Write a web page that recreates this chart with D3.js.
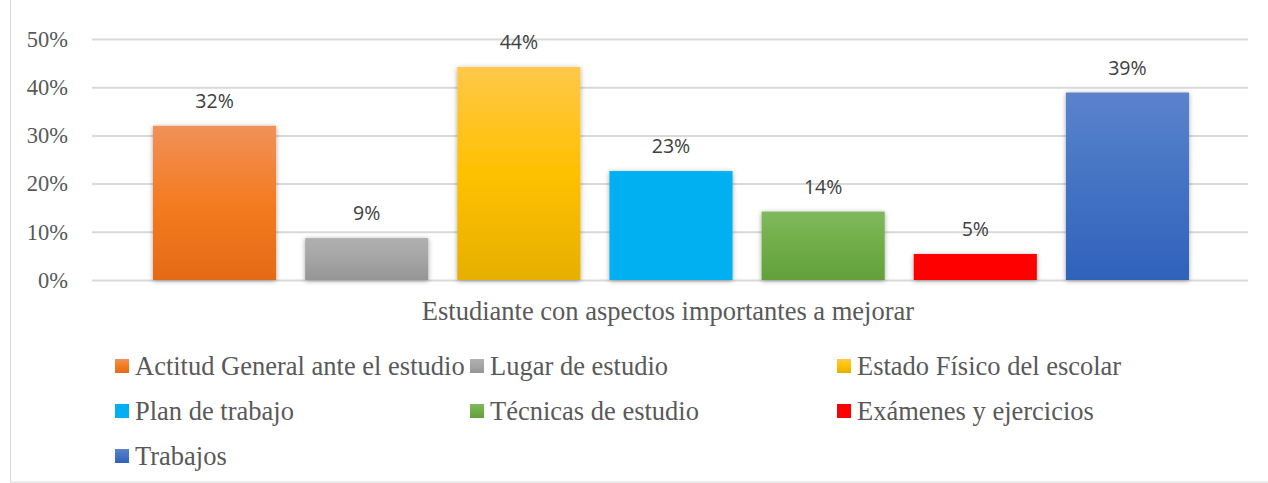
<!DOCTYPE html>
<html><head><meta charset="utf-8">
<script src="https://cdn.jsdelivr.net/npm/d3@7"></script>
<style>body{margin:0;background:#fff}</style>
</head><body>
<svg id="c" width="1268" height="483"></svg>
<script>
const categories = ["Actitud General ante el estudio","Lugar de estudio","Estado Físico del escolar","Plan de trabajo","Técnicas de estudio","Exámenes y ejercicios","Trabajos"];
const values = [0.32, 0.087, 0.442, 0.226, 0.142, 0.054, 0.389];
const colors = [["#f0915a","#f47b20","#e56a17"],["#b0b0b0","#a5a5a5","#959595"],["#ffc84a","#ffc000","#e6b000"],["#00b0f0","#00b0f0","#00b0f0"],["#80b95e","#70ad47","#62a03b"],["#ff0000","#ff0000","#ff0000"],["#5b83cc","#4472c4","#2f62bb"]];
const yTicks = [0,0.1,0.2,0.3,0.4,0.5];
const axisTitle = "Estudiante con aspectos importantes a mejorar";

const svg = d3.select("#c");
svg.append("rect").attr("x",10.5).attr("y",-2).attr("width",1260).attr("height",484).attr("fill","#fff").attr("stroke","#d9d9d9");

const defs = svg.append("defs");
colors.forEach((c,i)=>{
  const g = defs.append("linearGradient").attr("id","g"+i).attr("x1",0).attr("y1",0).attr("x2",0).attr("y2",1);
  g.append("stop").attr("offset","0%").attr("stop-color",c[0]);
  g.append("stop").attr("offset","50%").attr("stop-color",c[1]);
  g.append("stop").attr("offset","100%").attr("stop-color",c[2]);
});
const f = defs.append("filter").attr("id","sh").attr("x","-20%").attr("y","-20%").attr("width","140%").attr("height","140%");
f.append("feDropShadow").attr("dx",0).attr("dy",1).attr("stdDeviation",2.5).attr("flood-color","#000").attr("flood-opacity",0.35);

const x0 = 92, x1 = 1248;
const serif = "'Liberation Serif','Times New Roman',serif";
const y = d3.scaleLinear().domain([0,0.5]).range([280,39]);
const x = d3.scaleBand().domain(categories).range([153,1189]).paddingInner(29/152).paddingOuter(0);

// gridlines
const yAxis = d3.axisLeft(y).tickValues(yTicks).tickFormat(d3.format(".0%")).tickSize(-(x1-x0)).tickPadding(24);
const ga = svg.append("g").attr("transform",`translate(${x0},0)`).call(yAxis);
ga.select(".domain").remove();
ga.selectAll(".tick line").attr("stroke","#d9d9d9").attr("stroke-width",2);
ga.selectAll(".tick text").attr("font-family",serif).attr("font-size",22.5).attr("fill","#595959");

// bars
svg.selectAll(".bar").data(values).enter().append("rect")
  .attr("x",(d,i)=>x(categories[i])).attr("width",x.bandwidth())
  .attr("y",d=>y(d)).attr("height",d=>y(0)-y(d))
  .attr("fill",(d,i)=>`url(#g${i})`).attr("filter","url(#sh)");

// labels
svg.selectAll(".lbl").data(values).enter().append("text")
  .attr("x",(d,i)=>x(categories[i])+x.bandwidth()/2).attr("y",d=>y(d)-18)
  .attr("text-anchor","middle").attr("font-family","'Open Sans',sans-serif").attr("font-size",19.5).attr("fill","#404040")
  .text(d=>d3.format(".0%")(d));

svg.append("text").attr("x",668).attr("y",320).attr("text-anchor","middle")
  .attr("font-family",serif).attr("font-size",26.5).attr("fill","#595959").text(axisTitle);

// legend
const colX = [115, 470, 837], rowY = [366, 411, 456];
const lg = svg.selectAll(".lg").data(categories).enter().append("g")
  .attr("transform",(d,i)=>`translate(${colX[i%3]},${rowY[Math.floor(i/3)]})`);
lg.append("rect").attr("x",0).attr("y",-7).attr("width",14).attr("height",14).attr("fill",(d,i)=>`url(#g${i})`);
lg.append("text").attr("x",20).attr("y",8.5).attr("font-family",serif).attr("font-size",26.5).attr("fill","#595959").text(d=>d);
</script>
</body></html>
